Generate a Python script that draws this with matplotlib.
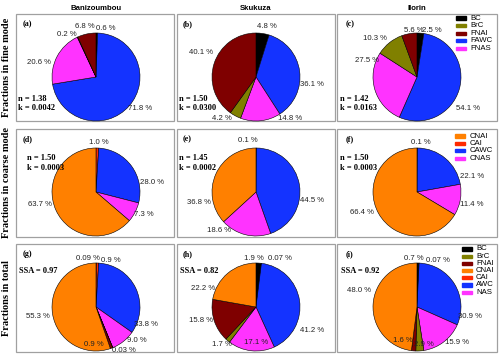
import matplotlib
matplotlib.use('Agg')
import matplotlib.pyplot as plt
from matplotlib.patches import Rectangle

# data (percent), slices listed clockwise from 12 o'clock
sites = ['Banizoumbou', 'Skukuza', 'Ilorin']

fine_order = ['BC', 'FAWC', 'FNAS', 'BrC', 'FNAI']
fine_banizoumbou = [0.6, 71.8, 20.6, 0.2, 6.8]
fine_skukuza = [4.8, 36.1, 14.8, 4.2, 40.1]
fine_ilorin = [2.5, 54.1, 27.5, 10.3, 5.6]

coarse_order = ['CAI', 'CAWC', 'CNAS', 'CNAI']
coarse_banizoumbou = [1.0, 28.0, 7.3, 63.7]
coarse_skukuza = [0.1, 44.5, 18.6, 36.8]
coarse_ilorin = [0.1, 22.1, 11.4, 66.4]

total_order = ['BC', 'CAI', 'AWC', 'NAS', 'BrC', 'FNAI', 'CNAI']
total_banizoumbou = [0.09, 0.9, 33.8, 9.0, 0.03, 0.9, 55.3]
total_skukuza = [1.9, 0.07, 41.2, 17.1, 1.7, 15.8, 22.2]
total_ilorin = [0.7, 0.07, 30.9, 15.9, 2.9, 1.6, 48.0]

n_fine = ['1.38', '1.50', '1.42']
k_fine = ['0.0042', '0.0300', '0.0163']
n_coarse = ['1.50', '1.45', '1.50']
k_coarse = ['0.0003', '0.0002', '0.0003']
ssa = ['0.97', '0.82', '0.92']

fine_legend = ['BC', 'BrC', 'FNAI', 'FAWC', 'FNAS']
coarse_legend = ['CNAI', 'CAI', 'CAWC', 'CNAS']
total_legend = ['BC', 'BrC', 'FNAI', 'CNAI', 'CAI', 'AWC', 'NAS']

colors = {'BC': 'black', 'BrC': '#808000', 'FNAI': '#7f0000',
          'FAWC': '#1433ff', 'FNAS': '#ff33ff', 'CNAI': '#ff8000',
          'CAI': '#ff2a00', 'CAWC': '#1433ff', 'CNAS': '#ff33ff',
          'AWC': '#1433ff', 'NAS': '#ff33ff'}

# label offsets (px from pie centre, x right / y up), same order as slices
off_fine = [
    [(10, 48), (44, -31), (-57, 15), (-29, 43), (-11, 50)],
    [(11, 51), (56, -8), (34, -41), (-34, -41), (-55, 24)],
    [(15, 47), (51, -31), (-50, 16), (-42, 38), (-3, 47)],
]
off_coarse = [
    [(3, 50), (56, 9), (48, -22), (-56, -13)],
    [(-8, 51), (56, -9), (-37, -39), (-57, -11)],
    [(4, 50), (55, 15), (55, -13), (-55, -21)],
]
off_total = [
    [(-8, 48), (15, 46), (50, -17), (41, -33), (28, -43), (-2, -37), (-58, -9)],
    [(-2, 49), (24, 48), (56, -23), (0, -36), (-34, -38), (-55, -14), (-53, 19)],
    [(-3, 49), (21, 47), (53, -10), (40, -35), (7, -38), (-14, -34), (-58, 16)],
]

H = 358
fig = plt.figure(figsize=(5.0, 3.58), dpi=100)
ax = fig.add_axes([0, 0, 1, 1])

col_x = [16, 177, 337]
col_w = [158, 158, 160]
row_y = [14, 129, 244]
row_h = [107, 108, 108]
pie_cx = [96, 256, 417]
pie_cy = [77, 192, 307]
R = 44

sans = 'Liberation Sans'
serif = 'Liberation Serif'


def fmt(v):
    return ('%.2f %%' % v) if v < 0.1 else ('%.1f %%' % v)


rows = [
    (fine_order, [fine_banizoumbou, fine_skukuza, fine_ilorin], off_fine),
    (coarse_order, [coarse_banizoumbou, coarse_skukuza, coarse_ilorin], off_coarse),
    (total_order, [total_banizoumbou, total_skukuza, total_ilorin], off_total),
]
letters = 'abcdefghi'
letter_dx = [7, 6, 9]

for r, (order, vals, offs) in enumerate(rows):
    for c in range(3):
        x0, y0 = col_x[c], row_y[r]
        ax.add_patch(Rectangle((x0, H - y0 - row_h[r]), col_w[c], row_h[r],
                               fill=False, edgecolor='#a0a0a0', lw=0.9, zorder=1))
        cx, cy = pie_cx[c], H - pie_cy[r]
        ax.pie(vals[c], colors=[colors[k] for k in order], startangle=90,
               counterclock=False, center=(cx, cy), radius=R, frame=True,
               wedgeprops=dict(edgecolor='black', linewidth=0.4))
        for v, (dx, dy) in zip(vals[c], offs[c]):
            ax.text(cx + dx, cy + dy, fmt(v), fontsize=5.6, family=sans,
                    ha='center', va='center', zorder=5, color='#222222')
        ax.text(x0 + letter_dx[c], H - y0 - 10, '(%s)' % letters[3 * r + c],
                fontsize=5.8, family=serif, weight='bold', ha='left', va='center')

# n, k and SSA annotations
nk_x = [18, 179, 340]
for c in range(3):
    ax.text(nk_x[c], H - 99, 'n = ' + n_fine[c], fontsize=6, family=serif,
            weight='bold', va='center')
    ax.text(nk_x[c], H - 108, 'k = ' + k_fine[c], fontsize=6, family=serif,
            weight='bold', va='center')
nk2_x = [27, 179, 340]
for c in range(3):
    ax.text(nk2_x[c], H - 158, 'n = ' + n_coarse[c], fontsize=6, family=serif,
            weight='bold', va='center')
    ax.text(nk2_x[c], H - 168, 'k = ' + k_coarse[c], fontsize=6, family=serif,
            weight='bold', va='center')
ssa_x = [19, 180, 341]
for c in range(3):
    ax.text(ssa_x[c], H - 271, 'SSA = ' + ssa[c], fontsize=6, family=serif,
            weight='bold', va='center')

# column titles
for c, s in enumerate(sites):
    ax.text(pie_cx[c], H - 8, s, fontsize=5.6, family=sans, weight='bold',
            ha='center', va='center')

# row titles
row_titles = ['Fractions in fine mode', 'Fractions in coarse mode', 'Fractions in total']
for r, t in enumerate(row_titles):
    ax.text(7, H - (row_y[r] + row_h[r] / 2), t, fontsize=7.5, family=serif,
            weight='bold', rotation=90, ha='center', va='center')


# legends drawn as small bars + names
def legend(names, x_patch, x_text, y_start, step):
    for i, nm in enumerate(names):
        y = H - (y_start + i * step)
        ax.add_patch(Rectangle((x_patch, y - 1.6), 10, 3.2, color=colors[nm], zorder=6))
        ax.text(x_text, y, nm, fontsize=5.6, family=sans, va='center', zorder=6)


legend(fine_legend, 456, 470, 18, 7.6)
legend(coarse_legend, 455, 470, 136, 7.4)
legend(total_legend, 462, 476, 249, 7.2)

ax.set_xlim(0, 500)
ax.set_ylim(0, H)
ax.set_aspect('auto')
ax.axis('off')

fig.savefig('out.png', dpi=100)
